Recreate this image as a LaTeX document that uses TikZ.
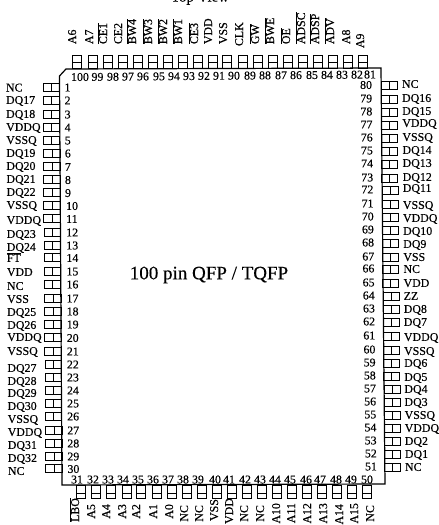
\documentclass[tikz,border=0pt]{standalone}
\usepackage{fontspec}
\setmainfont[FakeBold=0.25]{Liberation Serif}
\newcommand{\ol}[1]{\vbox{\hrule height 0.9pt \kern 0.5pt \hbox{#1}}}
\tikzset{
  txt/.style={inner sep=0pt,outer sep=0pt,font=\fontsize{11.9}{12}\selectfont},
  lefttxt/.style={txt,anchor=base west,yshift=-3.9pt},
  righttxt/.style={txt,anchor=base east,yshift=-3.9pt},
  midtxt/.style={txt,anchor=base,yshift=-3.9pt},
  uptxt/.style={txt,rotate=90,anchor=base west,xshift=3.9pt},
  downtxt/.style={txt,rotate=90,anchor=base east,xshift=3.9pt},
  body/.style={draw=black,line width=1.2pt,line join=miter},
  pin/.style={draw=black,line width=0.95pt},
}
\begin{document}
\begin{tikzpicture}[x=1pt,y=-1pt]
\clip (0,0) rectangle (439,525);
\draw[body] (59.5,76) -- (66,69) -- (381,68) -- (385,484) -- (62,485) -- cycle;
\node[txt,anchor=base,font=\fontsize{14.9}{15}\selectfont] (title) at (200,1.6) {Top View};
\node[txt,anchor=center,font=\fontsize{19}{20}\selectfont] (centre) at (209,275) {100 pin QFP / TQFP};
% left side
\foreach \n/\py/\ly/\t in {
1/87/87.6/NC,2/100/100/DQ17,3/114/114/DQ18,4/127/127/VDDQ,5/140/140/VSSQ,6/153/153/DQ19,7/166.5/166/DQ20,8/179.5/179/DQ21,9/192.5/192/DQ22,10/205.5/205/VSSQ,
11/218.5/220/VDDQ,12/232/234/DQ23,13/245/247/DQ24,14/257.5/258/{\ol{FT}},15/271/272/VDD,16/284/286/NC,17/298/299/VSS,18/311/312/DQ25,19/324/325/DQ26,20/337.5/337/VDDQ,
21/351/351/VSSQ,22/364/368/DQ27,23/377/381/DQ28,24/390/393/DQ29,25/403/406/DQ30,26/416/419/VSSQ,27/430/432/VDDQ,28/443/445/DQ31,29/456/458/DQ32,30/468.5/471/NC}{
  \pgfmathsetmacro{\sk}{(\n-1)*2.8/29}
  \draw[pin] ({43+\sk},{\py-4}) rectangle ({59.5+\sk},{\py+4}) ({51.5+\sk},{\py-4}) -- ({51.5+\sk},{\py+4});
  \node[lefttxt] (pl\n) at ({6+\sk*0.7},\ly) {\t};
  \node[lefttxt] (nl\n) at ({\ifnum\n<10 64.5\else 65.5\fi+\sk*0.7},{\py+0.5}) {\n};
}
% right side
\foreach \n/\py/\ly/\t in {
80/85.5/84/NC,79/99/98/DQ16,78/112/111/DQ15,77/125/123/VDDQ,76/138/137/VSSQ,75/151/150/DQ14,74/164/163/DQ13,73/178/177/DQ12,72/190/188/DQ11,71/204/205/VSSQ,
70/217/218/VDDQ,69/230/231/DQ10,68/243/244/DQ9,67/257/257/VSS,66/269/269/NC,65/283/283/VDD,64/296/296/ZZ,63/309/309/DQ8,62/322/322/DQ7,61/336/337/VDDQ,
60/350/351/VSSQ,59/363/363/DQ6,58/376/377/DQ5,57/389/389/DQ4,56/402/402/DQ3,55/415/415/VSSQ,54/428/428/VDDQ,53/441/441/DQ2,52/454/454/DQ1,51/467/467/NC}{
  \pgfmathsetmacro{\sk}{(80-\n)*3.8/29}
  \draw[pin] ({381+\sk},{\py-4}) rectangle ({397+\sk},{\py+4}) ({389+\sk},{\py-4}) -- ({389+\sk},{\py+4});
  \node[lefttxt] (pr\n) at ({402+\sk*0.8},\ly) {\t};
  \node[righttxt] (nr\n) at ({372+\sk*1.3},{\py-0.5}) {\n};
}
% top side
\foreach \n/\px/\lx/\ny/\lb/\t in {
100/77/76/80/48/A6,99/93/93/97.5/48/A7,98/108/107/113/48/{\ol{CE1}},97/123/122/128/48/CE2,96/138/136/143/48/{\ol{BW4}},95/153/152/159/48/{\ol{BW3}},94/168/167/174/48/{\ol{BW2}},93/183/182/189/48/{\ol{BW1}},92/198/198/204/48/{\ol{CE3}},91/213/212/219/48/VDD,
90/227/227/234/48/VSS,89/243/243/250/50/CLK,88/258/259/265/48/{\ol{GW}},87/273/274/281/48/{\ol{BWE}},86/288/290/296/48/{\ol{OE}},85/303/305/312/48/{\ol{ADSC}},84/318/319/327/48/{\ol{ADSP}},83/333/334/342/48/{\ol{ADV}},82/348/350/357/48/A8,81/363/364/370/52/A9}{
  \draw[pin] ({\px-4.5},55) rectangle ({\px+4.5},68) ({\px-4.5},62) -- ({\px+4.5},62);
  \node[uptxt] (pt\n) at (\lx,\lb) {\t};
  \pgfmathsetmacro{\ty}{77-(100-\n)*2.5/19}
  \node[midtxt] (nt\n) at (\ny,\ty) {\n};
}
% bottom side
\foreach \n/\px/\lx/\ny/\lb/\t in {
31/81/79/77/502/{\ol{LBO}},32/96/95/93/508/A5,33/111/110/108/508/A4,34/127/126/123/508/A3,35/141/140/138/508/A2,36/157/157/153/508/A1,37/172/173/168/508/A0,38/187/188/183/509/NC,39/202/203/198/509/NC,40/217/218/215/503/VSS,
41/232/233/229/502/VDD,42/247/248/245/509/NC,43/262/264/260/509/NC,44/277/280/275/507/A10,45/292/295/290/507/A11,46/307/311/306/507/A12,47/322/327/320/507/A13,48/337/343/336/508/A14,49/352/358/351/507/A15,50/367/374/367/509/NC}{
  \draw[pin] ({\px-4.3},485) rectangle ({\px+4.3},498) ({\px-4.3},493) -- ({\px+4.3},493);
  \node[downtxt] (pb\n) at (\lx,\lb) {\t};
  \node[midtxt] (nb\n) at (\ny,479.5) {\n};
}
\end{tikzpicture}
\end{document}
